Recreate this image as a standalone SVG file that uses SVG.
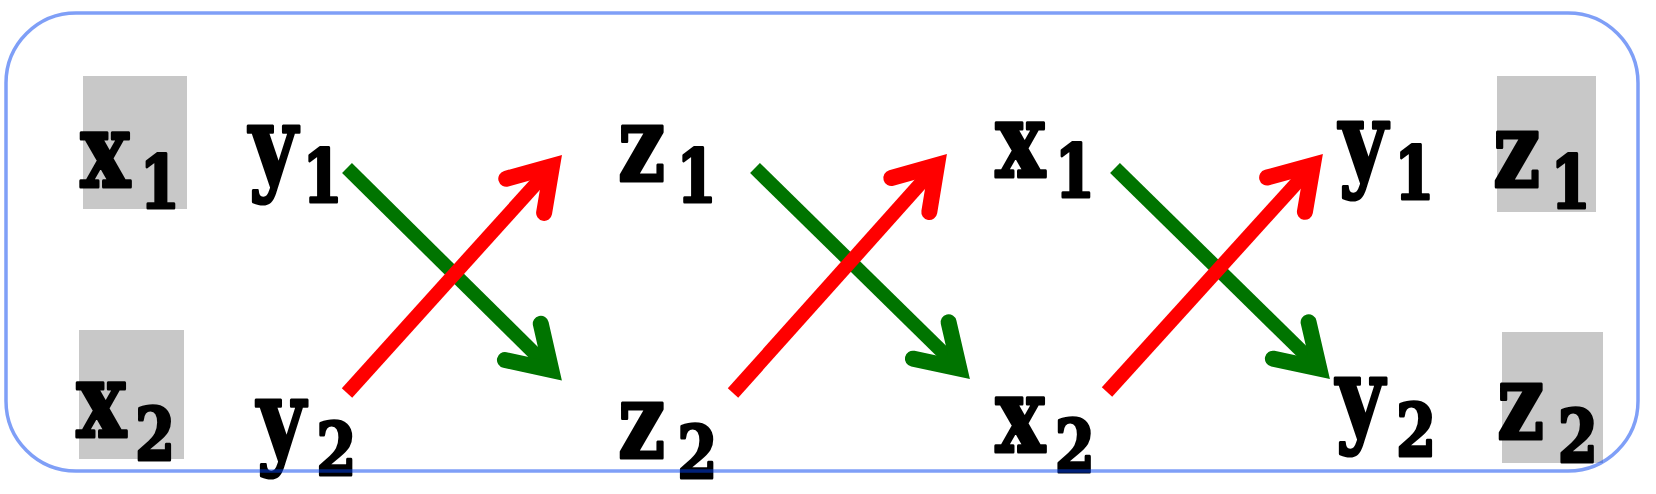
<svg xmlns="http://www.w3.org/2000/svg" width="1656" height="494" viewBox="0 0 1656 494">
  <style>
    .lbl { font-family: "DejaVu Serif", "Liberation Serif", serif; font-weight: bold; font-size: 104px; fill: #000; stroke: #000; stroke-width: 3; stroke-linejoin: round; }
    .sub { font-size: 72px; }
    .box { fill: #c8c8c8; }
    .g { stroke: #007400; stroke-width: 14; fill: none; stroke-linecap: butt; }
    .r { stroke: #ff0000; stroke-width: 14; fill: none; stroke-linecap: butt; }
  </style>
  <defs>
    <marker id="headG" markerUnits="userSpaceOnUse" viewBox="-60 -40 80 80" refX="0" refY="0" markerWidth="80" markerHeight="80" orient="auto" overflow="visible">
      <path d="M-40,-25.5 L0,0 L-40,25.5" fill="none" stroke="#007400" stroke-width="16" stroke-linejoin="miter" stroke-linecap="round"/>
    </marker>
    <marker id="headR" markerUnits="userSpaceOnUse" viewBox="-60 -40 80 80" refX="0" refY="0" markerWidth="80" markerHeight="80" orient="auto" overflow="visible">
      <path d="M-40,-25.5 L0,0 L-40,25.5" fill="none" stroke="#ff0000" stroke-width="16" stroke-linejoin="miter" stroke-linecap="round"/>
    </marker>
  </defs>
  <rect width="1656" height="494" fill="#ffffff"/>

  <g id="node-x1-left">
    <rect class="box" x="83" y="76" width="104" height="133"/>
    <text class="lbl" transform="translate(80.5,187) scale(0.8,1)">x<tspan class="sub" x="74" y="21">1</tspan></text>
  </g>
  <g id="node-x2-left">
    <rect class="box" x="79" y="330" width="105" height="129"/>
    <text class="lbl" transform="translate(76.5,437) scale(0.8,1)">x<tspan class="sub" x="73" y="23">2</tspan></text>
  </g>
  <g id="node-y1-left">
    <text class="lbl" transform="translate(249,181) scale(0.8,1)">y<tspan class="sub" x="67" y="21">1</tspan></text>
  </g>
  <g id="node-y2-left">
    <text class="lbl" transform="translate(257,455) scale(0.8,1)">y<tspan class="sub" x="74" y="20">2</tspan></text>
  </g>
  <g id="node-z1-mid">
    <text class="lbl" transform="translate(618,181) scale(0.8,1)">z<tspan class="sub" x="73" y="21">1</tspan></text>
  </g>
  <g id="node-z2-mid">
    <text class="lbl" transform="translate(618,458) scale(0.8,1)">z<tspan class="sub" x="74" y="20">2</tspan></text>
  </g>
  <g id="node-x1-mid">
    <text class="lbl" transform="translate(995.5,177) scale(0.8,1)">x<tspan class="sub" x="74" y="20">1</tspan></text>
  </g>
  <g id="node-x2-mid">
    <text class="lbl" transform="translate(995.5,452) scale(0.8,1)">x<tspan class="sub" x="74" y="20">2</tspan></text>
  </g>
  <g id="node-y1-right">
    <text class="lbl" transform="translate(1339,177) scale(0.8,1)">y<tspan class="sub" x="69" y="22">1</tspan></text>
  </g>
  <g id="node-y2-right">
    <text class="lbl" transform="translate(1336,433) scale(0.8,1)">y<tspan class="sub" x="75" y="23">2</tspan></text>
  </g>
  <g id="node-z1-right">
    <rect class="box" x="1497" y="76" width="99" height="136"/>
    <text class="lbl" transform="translate(1493,187) scale(0.8,1)">z<tspan class="sub" x="72" y="21">1</tspan></text>
  </g>
  <g id="node-z2-right">
    <rect class="box" x="1502" y="332" width="101" height="131"/>
    <text class="lbl" transform="translate(1497,439) scale(0.8,1)">z<tspan class="sub" x="76" y="23">2</tspan></text>
  </g>

  <g id="connectors">
    <path class="g" d="M347,168 L551.3,370" marker-end="url(#headG)"/>
    <path class="r" d="M347,393 L552,166.1" marker-end="url(#headR)"/>
    <path class="g" d="M755,168 L959.3,368.5" marker-end="url(#headG)"/>
    <path class="r" d="M733,393 L937,165.2" marker-end="url(#headR)"/>
    <path class="g" d="M1115,168 L1319.3,368.5" marker-end="url(#headG)"/>
    <path class="r" d="M1107,392 L1312.9,165.1" marker-end="url(#headR)"/>
  </g>

  <g id="frame">
    <rect x="6" y="13" width="1632" height="458" rx="70" ry="70" fill="none" stroke="#0040f0" stroke-opacity="0.5" stroke-width="3.5"/>
  </g>
</svg>
